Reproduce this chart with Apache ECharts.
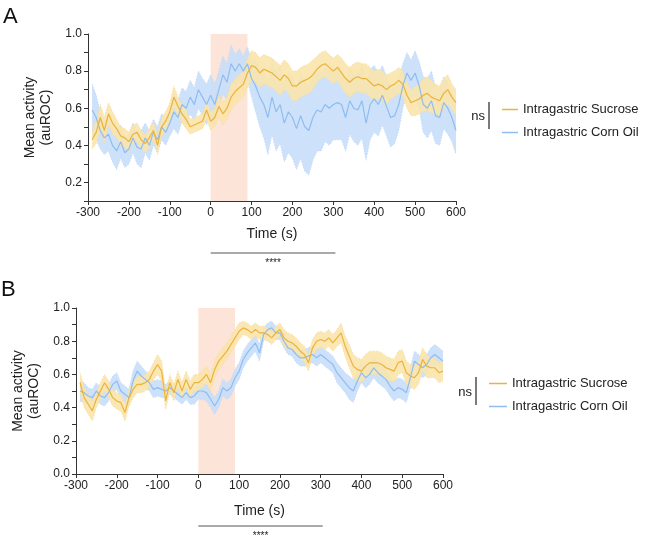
<!DOCTYPE html>
<html>
<head>
<meta charset="utf-8">
<script src="https://cdn.jsdelivr.net/npm/echarts@6/dist/echarts.min.js"></script>
<style>
  html, body { margin: 0; padding: 0; background: #fff; }
  #chart { width: 654px; height: 537px; }
</style>
</head>
<body>
<div id="chart"></div>
<script>
// time bins (s)
var times = [-290,-280,-270,-260,-250,-240,-230,-220,-210,-200,
  -190,-180,-170,-160,-150,-140,-130,-120,-110,-100,
  -90,-80,-70,-60,-50,-40,-30,-20,-10,0,
  10,20,30,40,50,60,70,80,90,100,
  110,120,130,140,150,160,170,180,190,200,
  210,220,230,240,250,260,270,280,290,300,
  310,320,330,340,350,360,370,380,390,400,
  410,420,430,440,450,460,470,480,490,500,
  510,520,530,540,550,560,570,580,590,600];
var xTicks = [-300, 600, 100];   // min, max, step
var stimWindow = [0, 90];
var sigWindow = [0, 305];

// panel A
var sucroseA = [0.43,0.47,0.55,0.48,0.57,0.52,0.49,0.45,0.44,0.42,
  0.46,0.47,0.43,0.41,0.44,0.48,0.40,0.50,0.53,0.58,
  0.66,0.61,0.57,0.54,0.50,0.51,0.52,0.53,0.59,0.53,
  0.55,0.61,0.57,0.60,0.66,0.69,0.71,0.73,0.79,0.83,
  0.82,0.79,0.81,0.80,0.79,0.77,0.75,0.78,0.76,0.72,
  0.72,0.74,0.75,0.76,0.78,0.81,0.83,0.84,0.82,0.80,
  0.82,0.79,0.76,0.74,0.76,0.77,0.76,0.76,0.74,0.72,
  0.73,0.72,0.70,0.72,0.73,0.75,0.73,0.67,0.63,0.64,
  0.65,0.67,0.68,0.66,0.65,0.64,0.68,0.70,0.66,0.63];
var sucroseSemA = [0.05,0.06,0.07,0.07,0.06,0.06,0.05,0.05,0.05,0.05,
  0.05,0.05,0.05,0.05,0.05,0.05,0.05,0.05,0.05,0.05,
  0.06,0.05,0.05,0.05,0.04,0.04,0.04,0.04,0.05,0.05,
  0.05,0.06,0.06,0.06,0.07,0.07,0.07,0.07,0.08,0.08,
  0.08,0.08,0.08,0.08,0.08,0.08,0.08,0.08,0.08,0.08,
  0.08,0.08,0.08,0.08,0.08,0.07,0.07,0.07,0.07,0.07,
  0.07,0.08,0.08,0.08,0.08,0.08,0.08,0.08,0.08,0.08,
  0.08,0.08,0.08,0.07,0.07,0.07,0.07,0.07,0.07,0.08,
  0.08,0.09,0.09,0.09,0.08,0.08,0.08,0.08,0.07,0.07];
var cornOilA = [0.59,0.55,0.48,0.44,0.46,0.40,0.37,0.42,0.36,0.38,
  0.44,0.39,0.38,0.44,0.40,0.47,0.43,0.50,0.47,0.52,
  0.58,0.55,0.62,0.60,0.66,0.62,0.70,0.66,0.62,0.67,
  0.62,0.70,0.78,0.74,0.84,0.80,0.84,0.80,0.84,0.76,
  0.72,0.66,0.62,0.55,0.66,0.58,0.62,0.52,0.58,0.55,
  0.49,0.56,0.50,0.48,0.55,0.59,0.58,0.62,0.60,0.62,
  0.63,0.62,0.55,0.64,0.60,0.59,0.64,0.52,0.62,0.65,
  0.62,0.67,0.61,0.55,0.56,0.62,0.72,0.79,0.75,0.79,
  0.72,0.62,0.60,0.64,0.56,0.55,0.63,0.60,0.55,0.48];
var cornOilSemA = [0.14,0.12,0.10,0.09,0.09,0.09,0.10,0.09,0.08,0.08,
  0.08,0.09,0.10,0.08,0.08,0.07,0.07,0.07,0.07,0.07,
  0.09,0.09,0.09,0.09,0.09,0.09,0.10,0.10,0.11,0.11,
  0.11,0.10,0.10,0.10,0.10,0.09,0.08,0.08,0.09,0.10,
  0.14,0.16,0.18,0.20,0.20,0.21,0.21,0.21,0.22,0.22,
  0.22,0.23,0.24,0.24,0.23,0.22,0.21,0.20,0.20,0.19,
  0.20,0.19,0.18,0.18,0.18,0.19,0.20,0.20,0.19,0.18,
  0.17,0.16,0.16,0.16,0.15,0.14,0.12,0.11,0.11,0.12,
  0.13,0.15,0.16,0.16,0.15,0.15,0.14,0.14,0.13,0.13];

// panel B
var sucroseB = [0.55,0.46,0.42,0.38,0.45,0.50,0.55,0.51,0.46,0.44,
  0.43,0.37,0.46,0.51,0.54,0.54,0.55,0.57,0.62,0.66,
  0.62,0.44,0.55,0.49,0.57,0.50,0.57,0.51,0.55,0.55,
  0.57,0.60,0.55,0.63,0.68,0.71,0.74,0.78,0.82,0.86,
  0.88,0.87,0.85,0.87,0.85,0.85,0.84,0.82,0.85,0.87,
  0.82,0.80,0.79,0.77,0.74,0.72,0.67,0.76,0.80,0.81,
  0.80,0.82,0.79,0.82,0.85,0.77,0.71,0.65,0.63,0.62,
  0.65,0.67,0.67,0.67,0.66,0.64,0.63,0.62,0.67,0.68,
  0.61,0.59,0.58,0.61,0.69,0.65,0.64,0.64,0.61,0.62];
var sucroseSemB = [0.06,0.06,0.06,0.06,0.05,0.05,0.05,0.05,0.05,0.05,
  0.05,0.05,0.05,0.05,0.05,0.05,0.05,0.05,0.05,0.06,
  0.06,0.05,0.05,0.05,0.05,0.05,0.05,0.05,0.05,0.05,
  0.05,0.05,0.05,0.05,0.05,0.05,0.05,0.05,0.05,0.05,
  0.04,0.04,0.04,0.04,0.04,0.04,0.04,0.04,0.04,0.04,
  0.05,0.05,0.05,0.05,0.05,0.05,0.05,0.05,0.05,0.05,
  0.05,0.05,0.05,0.05,0.06,0.06,0.07,0.07,0.07,0.07,
  0.07,0.07,0.07,0.07,0.07,0.07,0.07,0.07,0.07,0.07,
  0.07,0.07,0.07,0.07,0.07,0.07,0.06,0.06,0.06,0.06];
var cornOilB = [0.50,0.49,0.47,0.46,0.50,0.47,0.46,0.49,0.54,0.56,
  0.50,0.48,0.46,0.56,0.62,0.59,0.57,0.55,0.51,0.52,
  0.51,0.50,0.52,0.50,0.48,0.46,0.49,0.46,0.47,0.50,
  0.50,0.49,0.45,0.41,0.45,0.52,0.50,0.52,0.58,0.62,
  0.69,0.73,0.76,0.79,0.73,0.84,0.87,0.88,0.85,0.85,
  0.80,0.76,0.75,0.72,0.70,0.70,0.71,0.72,0.70,0.72,
  0.70,0.68,0.66,0.61,0.58,0.55,0.52,0.50,0.56,0.61,
  0.58,0.60,0.64,0.61,0.59,0.57,0.53,0.50,0.52,0.51,
  0.49,0.58,0.68,0.66,0.64,0.66,0.70,0.72,0.70,0.68];
var cornOilSemB = [0.06,0.06,0.05,0.05,0.05,0.05,0.05,0.05,0.05,0.05,
  0.05,0.05,0.05,0.06,0.06,0.06,0.05,0.05,0.05,0.05,
  0.05,0.04,0.04,0.04,0.04,0.04,0.04,0.04,0.05,0.05,
  0.05,0.05,0.05,0.05,0.05,0.05,0.05,0.05,0.05,0.05,
  0.05,0.05,0.05,0.05,0.05,0.04,0.04,0.04,0.04,0.04,
  0.04,0.04,0.04,0.05,0.05,0.05,0.05,0.05,0.05,0.05,
  0.05,0.05,0.05,0.06,0.06,0.06,0.07,0.07,0.06,0.06,
  0.06,0.06,0.06,0.06,0.06,0.06,0.06,0.06,0.06,0.06,
  0.06,0.06,0.06,0.06,0.06,0.06,0.06,0.06,0.06,0.06];

var SUC = 'Intragastric Sucrose';
var OIL = 'Intragastric Corn Oil';
var FONT = 'Liberation Sans, Arial, sans-serif';
var sucColor = '#ebb33b', sucBand = 'rgba(251,228,170,0.88)', sucEdge = '#f6dc9c';
var oilColor = '#8fbdf0', oilBand = 'rgba(200,222,250,0.9)', oilEdge = '#bcd8f8';

function pairs(vals) {
  return times.map(function (t, i) { return [t, vals[i]]; });
}

// SEM band as one polygon, placed through the axis scales (api.coord)
function bandSeries(idx, mean, sem, fill, edge, z) {
  var data = times.map(function (t, i) {
    return [t, +(mean[i] - sem[i]).toFixed(3), +(mean[i] + sem[i]).toFixed(3)];
  });
  return {
    type: 'custom', xAxisIndex: idx, yAxisIndex: idx, silent: true, z: z,
    clip: true, animation: false,
    encode: { x: 0, y: [1, 2] },
    data: data,
    renderItem: function (params, api) {
      if (params.dataIndex !== 0) return null;
      var up = data.map(function (d) { return api.coord([d[0], d[2]]); });
      var lo = data.map(function (d) { return api.coord([d[0], d[1]]); });
      var poly = up.concat(lo.slice().reverse());
      return {
        type: 'group',
        children: [
          { type: 'polygon', shape: { points: poly }, style: { fill: fill } },
          { type: 'polyline', shape: { points: up }, style: { stroke: edge, lineWidth: 0.8, lineDash: [1.5, 1.5], fill: null } },
          { type: 'polyline', shape: { points: lo }, style: { stroke: edge, lineWidth: 0.8, lineDash: [1.5, 1.5], fill: null } }
        ]
      };
    }
  };
}

function stimSeries(idx) {
  return {
    type: 'custom', xAxisIndex: idx, yAxisIndex: idx, silent: true, z: 1,
    animation: false, data: [stimWindow],
    encode: { x: [0, 1] },
    renderItem: function (params, api) {
      var cs = params.coordSys;
      var a = api.coord([api.value(0), 0.5]);
      var b = api.coord([api.value(1), 0.5]);
      return { type: 'rect', shape: { x: a[0], y: cs.y, width: b[0] - a[0], height: cs.height },
        style: { fill: '#fde4d8' } };
    }
  };
}

function meanSeries(idx, name, mean, color) {
  return {
    type: 'line', name: name, xAxisIndex: idx, yAxisIndex: idx, z: 5,
    data: pairs(mean), symbol: 'none', animation: false,
    itemStyle: { color: color }, lineStyle: { color: color, width: 1.2 }
  };
}

function panel(idx, sucM, sucS, oilM, oilS) {
  return [
    stimSeries(idx),
    bandSeries(idx, oilM, oilS, oilBand, oilEdge, 2),
    bandSeries(idx, sucM, sucS, sucBand, sucEdge, 3),
    meanSeries(idx, OIL, oilM, oilColor),
    meanSeries(idx, SUC, sucM, sucColor)
  ];
}

function axisLine() { return { onZero: false, lineStyle: { color: '#333', width: 1 } }; }
function xAxis(idx, gap) {
  return {
    type: 'value', gridIndex: idx, min: xTicks[0], max: xTicks[1], interval: xTicks[2],
    name: 'Time (s)', nameLocation: 'middle', nameGap: gap,
    nameTextStyle: { fontSize: 14, color: '#222', fontFamily: FONT },
    axisLine: axisLine(), axisTick: { length: 4, lineStyle: { color: '#333' } },
    axisLabel: { fontSize: 12, color: '#222', margin: 6, fontFamily: FONT },
    splitLine: { show: false }
  };
}
function yAxis(idx, min, gap) {
  var line = axisLine(); line.show = true;
  return {
    type: 'value', gridIndex: idx, min: min, max: 1.0, interval: 0.1,
    name: 'Mean activity\n(auROC)', nameLocation: 'middle', nameGap: gap,
    nameTextStyle: { fontSize: 14, color: '#222', lineHeight: 16, fontFamily: FONT },
    axisLine: line,
    axisTick: { show: true, length: 4, lineStyle: { color: '#333' } },
    axisLabel: {
      fontSize: 12, color: '#222', margin: 6, fontFamily: FONT,
      formatter: function (v) {
        return Math.round(v * 10) % 2 === 0 ? v.toFixed(1) : '';
      }
    },
    splitLine: { show: false }
  };
}

function legend(left, top, w) {
  return {
    left: left, top: top, orient: 'vertical', data: [SUC, OIL],
    icon: 'rect', itemWidth: w, itemHeight: 1.5, itemGap: 8,
    selectedMode: false,
    textStyle: { fontSize: 13, color: '#222', fontFamily: FONT, lineHeight: 15 }
  };
}

var chart = echarts.init(document.getElementById('chart'));
chart.setOption({
  backgroundColor: '#fff',
  animation: false,
  grid: [
    { left: 88, top: 34, width: 368, height: 167 },
    { left: 76, top: 308, width: 367, height: 166 }
  ],
  xAxis: [xAxis(0, 26), xAxis(1, 30)],
  yAxis: [yAxis(0, 0.1, 27), yAxis(1, 0, 31)],
  legend: [legend(497, 97, 16), legend(484, 371, 18)],
  series: panel(0, sucroseA, sucroseSemA, cornOilA, cornOilSemA)
    .concat(panel(1, sucroseB, sucroseSemB, cornOilB, cornOilSemB))
});

// annotations: panel letters, "ns" brackets, significance bars
function sigBar(idx, y) {
  var a = chart.convertToPixel({ gridIndex: idx }, [sigWindow[0], 0.5]);
  var b = chart.convertToPixel({ gridIndex: idx }, [sigWindow[1], 0.5]);
  return [
    { type: 'line', shape: { x1: a[0], y1: y, x2: b[0], y2: y },
      style: { stroke: '#555', lineWidth: 1 } },
    { type: 'text', x: (a[0] + b[0]) / 2, y: y + 10,
      style: { text: '****', fill: '#222', font: '10px ' + FONT, align: 'center', verticalAlign: 'middle' } }
  ];
}
function nsMark(x, y1, y2) {
  return [
    { type: 'line', shape: { x1: x, y1: y1, x2: x, y2: y2 }, style: { stroke: '#222', lineWidth: 1.2 } },
    { type: 'text', x: x - 4, y: (y1 + y2) / 2 + 1,
      style: { text: 'ns', fill: '#222', font: '13px ' + FONT, align: 'right', verticalAlign: 'middle' } }
  ];
}
chart.setOption({
  graphic: [
    { type: 'text', left: 3, top: 6, style: { text: 'A', fill: '#111', font: '22px ' + FONT } },
    { type: 'text', left: 1, top: 279, style: { text: 'B', fill: '#111', font: '22px ' + FONT } }
  ].concat(nsMark(489, 102, 129))
   .concat(nsMark(476, 377, 405))
   .concat(sigBar(0, 253))
   .concat(sigBar(1, 526))
});
</script>
</body>
</html>
